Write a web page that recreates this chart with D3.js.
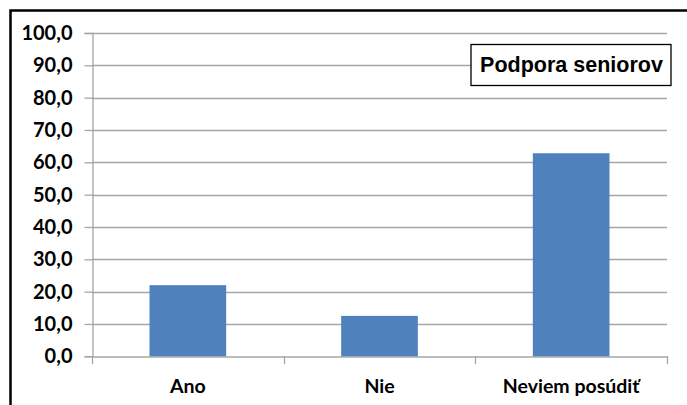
<!DOCTYPE html>
<html><head><meta charset="utf-8">
<script src="https://cdn.jsdelivr.net/npm/d3@7"></script>
<style>body{margin:0;background:#fff}svg{display:block}</style>
</head><body>
<script>
const categories = ["Ano", "Nie", "Neviem posúdiť"];
const values = [22.0, 12.5, 62.8];
const yTicks = [0, 10, 20, 30, 40, 50, 60, 70, 80, 90, 100];
const legendLabel = "Podpora seniorov";

const W = 687, H = 405;
const svg = d3.select("body").append("svg").attr("width", W).attr("height", H);

// outer frame (left and top edges visible)
svg.append("path").attr("d", `M10.5,${H + 2} L10.5,10.5 L${W + 2},10.5`)
  .attr("fill", "none").attr("stroke", "#000").attr("stroke-width", 2.5);

const m = {left: 92, right: 667, top: 33, bottom: 356.3};
const x = d3.scaleBand().domain(categories).range([m.left, m.right]).paddingInner(0.6).paddingOuter(0.3);
const xb = d3.scaleBand().domain(categories).range([m.left, m.right]);
const y = d3.scaleLinear().domain([0, 100]).range([m.bottom, m.top]);
const fmt = d => d3.format(".1f")(d).replace(".", ",");

// gridlines
svg.append("g").selectAll("line").data(yTicks.filter(d => d > 0)).join("line")
  .attr("x1", m.left).attr("x2", m.right)
  .attr("y1", d => Math.round(y(d)) + 0.5).attr("y2", d => Math.round(y(d)) + 0.5)
  .attr("stroke", "#a6a6a6").attr("stroke-width", 1.3);

// y axis
const yAxis = svg.append("g").attr("transform", `translate(${m.left + 0.5},0)`)
  .call(d3.axisLeft(y).tickValues(yTicks).tickFormat(fmt).tickSize(8).tickPadding(12));
yAxis.select(".domain").attr("stroke", "#a6a6a6").attr("stroke-width", 1.3);
yAxis.selectAll(".tick line").attr("stroke", "#a6a6a6").attr("stroke-width", 1.3);
yAxis.selectAll(".tick text").attr("font-family", "Lato, sans-serif").attr("font-weight", "bold")
  .attr("font-size", 20).attr("fill", "#000");

// x axis
const xAxis = svg.append("g").attr("transform", `translate(0,${Math.round(m.bottom) + 0.5})`)
  .call(d3.axisBottom(xb).tickSize(0).tickPadding(23));
xAxis.select(".domain").attr("stroke", "#a6a6a6").attr("stroke-width", 1.3);
xAxis.selectAll(".tick text").attr("font-family", "Lato, sans-serif").attr("font-weight", "bold")
  .attr("font-size", 19.5).attr("fill", "#000");
// category boundary ticks
const bounds = categories.map(c => xb(c)).concat([m.right]);
svg.append("g").selectAll("line").data(bounds).join("line")
  .attr("x1", d => Math.round(d) + 0.5).attr("x2", d => Math.round(d) + 0.5)
  .attr("y1", Math.round(m.bottom)).attr("y2", Math.round(m.bottom) + 8)
  .attr("stroke", "#a6a6a6").attr("stroke-width", 1.3);

// bars
svg.append("g").selectAll("rect").data(values).join("rect")
  .attr("x", (d, i) => x(categories[i])).attr("width", x.bandwidth())
  .attr("y", d => y(d)).attr("height", d => y(0) - y(d))
  .attr("fill", "#4f81bd");

// legend box
const lg = svg.append("g");
lg.append("rect").attr("x", 471).attr("y", 44.5).attr("width", 200).attr("height", 41)
  .attr("fill", "#fff").attr("stroke", "#000").attr("stroke-width", 1.3);
lg.append("text").attr("x", 571.5).attr("y", 72).attr("text-anchor", "middle")
  .attr("font-family", "Liberation Sans, Arial, sans-serif").attr("font-weight", "bold")
  .attr("font-size", 21.5).attr("fill", "#000").text(legendLabel);
</script>
</body></html>
